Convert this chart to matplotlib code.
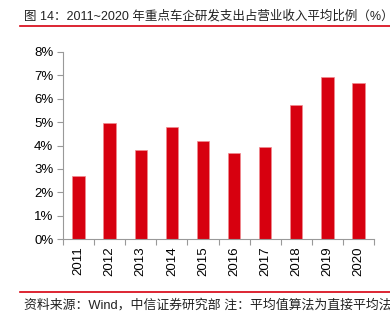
import matplotlib
matplotlib.use("Agg")
import matplotlib.pyplot as plt
from matplotlib.ticker import FuncFormatter, MultipleLocator
from matplotlib.lines import Line2D

plt.rcParams['font.family'] = ['Liberation Sans', 'Noto Sans CJK SC', 'DejaVu Sans']

years = ['2011', '2012', '2013', '2014', '2015', '2016', '2017', '2018', '2019', '2020']
rd_ratio = [2.72, 4.96, 3.80, 4.77, 4.20, 3.68, 3.92, 5.74, 6.93, 6.68]

title = '图 14：2011~2020 年重点车企研发支出占营业收入平均比例（%）'
source = '资料来源：Wind，中信证券研究部 注：平均值算法为直接平均法'

red = '#D7000F'
W, H = 390, 321
fig = plt.figure(figsize=(W / 100, H / 100), dpi=100)

ax = fig.add_axes([63 / W, 1 - 239.3 / H, (374 - 63) / W, (239.3 - 51.7) / H])
x = range(len(years))
ax.bar(x, rd_ratio, width=0.4, color=red, edgecolor='#F08A90', linewidth=0.5)
ax.set_xlim(-0.5, len(years) - 0.5)
ax.set_ylim(0, 8)
ax.yaxis.set_major_locator(MultipleLocator(1))
ax.yaxis.set_major_formatter(FuncFormatter(lambda v, p: f'{v:.0f}%'))
ax.set_xticks([i - 0.5 for i in range(len(years) + 1)], minor=False)
ax.set_xticklabels([])
ax.set_xticks(list(x), minor=True)
ax.set_xticklabels(years, minor=True, rotation=90, fontsize=9.5)
ax.tick_params(axis='x', which='minor', length=0, pad=5)
ax.tick_params(axis='x', which='major', length=4, color='#999999', direction='out')
ax.tick_params(axis='y', length=4, color='#999999', labelsize=9.5, pad=3)
for s in ['top', 'right']:
    ax.spines[s].set_visible(False)
for s in ['left', 'bottom']:
    ax.spines[s].set_color('#999999')
    ax.spines[s].set_linewidth(0.8)

fig.text(24 / W, 1 - 16 / H, title, fontsize=9.0, va='center', ha='left',
         family=['Liberation Sans', 'Noto Sans CJK SC', 'DejaVu Sans'], color='#222222')
fig.add_artist(Line2D([20 / W, 1], [1 - 26 / H] * 2, color=red, linewidth=1.2))
fig.add_artist(Line2D([20 / W, 1], [1 - 292 / H] * 2, color=red, linewidth=1.2))
fig.text(24 / W, 1 - 305 / H, source, fontsize=9.3, va='center', ha='left',
         family=['Liberation Sans', 'Noto Sans CJK SC', 'DejaVu Sans'], color='#222222')

fig.savefig('out.png', dpi=100)
